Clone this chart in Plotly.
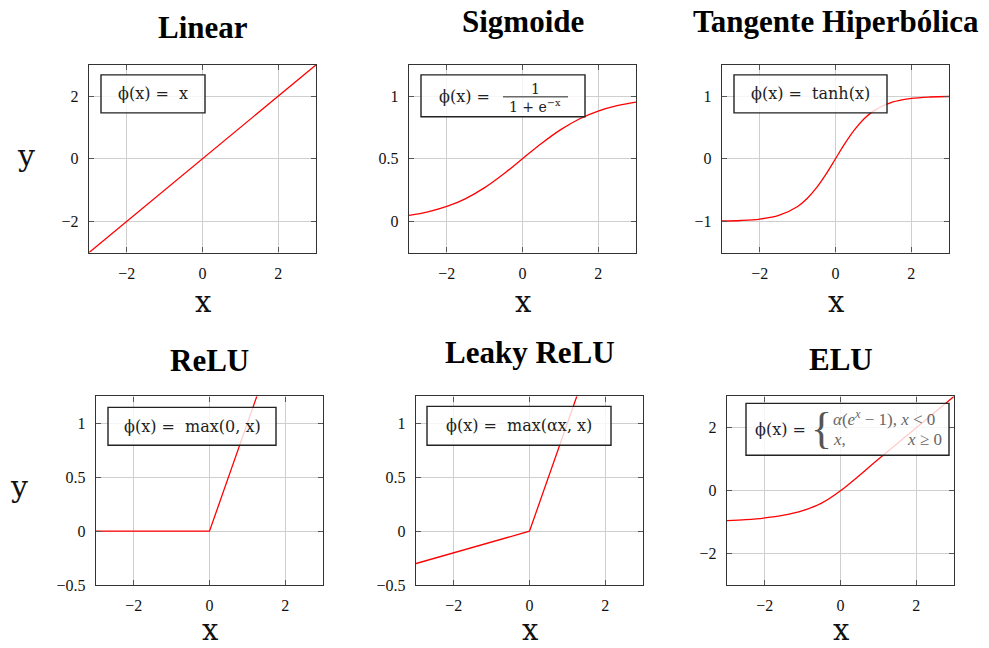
import plotly.graph_objects as go

# ---------------- data ----------------
titles = ["Linear", "Sigmoide", "Tangente Hiperbólica", "ReLU", "Leaky ReLU", "ELU"]

x_linear = [-3, 3]
y_linear = [-3, 3]

x_sigmoid = [-3, -2.5, -2, -1.5, -1, -0.5, 0, 0.5, 1, 1.5, 2, 2.5, 3]
y_sigmoid = [0.047, 0.076, 0.119, 0.182, 0.269, 0.378, 0.5, 0.622, 0.731, 0.818, 0.881, 0.924, 0.953]

x_tanh = [-3, -2.5, -2, -1.5, -1, -0.75, -0.5, -0.25, 0, 0.25, 0.5, 0.75, 1, 1.5, 2, 2.5, 3]
y_tanh = [-0.995, -0.987, -0.964, -0.905, -0.762, -0.635, -0.462, -0.245, 0, 0.245, 0.462, 0.635, 0.762, 0.905, 0.964, 0.987, 0.995]

x_relu = [-3, 0, 3]
y_relu = [0, 0, 3]

x_leaky = [-3, 0, 3]
y_leaky = [-0.3, 0, 3]

x_elu = [-3, -2.5, -2, -1.5, -1, -0.5, 0, 1, 2, 3]
y_elu = [-0.950, -0.918, -0.865, -0.777, -0.632, -0.393, 0, 1, 2, 3]

x_ticks = [-2, 0, 2]
y_ticks = [[-2, 0, 2], [0, 0.5, 1], [-1, 0, 1], [-0.5, 0, 0.5, 1], [-0.5, 0, 0.5, 1], [-2, 0, 2]]
y_ranges = [[-3, 3], [-0.25, 1.25], [-1.5, 1.5], [-0.5, 1.25], [-0.5, 1.25], [-3, 3]]
x_range = [-3, 3]

series = [(x_linear, y_linear, "linear"), (x_sigmoid, y_sigmoid, "spline"),
          (x_tanh, y_tanh, "spline"), (x_relu, y_relu, "linear"),
          (x_leaky, y_leaky, "linear"), (x_elu, y_elu, "spline")]

# ---------------- layout helpers ----------------
W, H = 989, 648          # reference pixel frame
FIG_H = 656              # rendered figure height (capture is rescaled to 648)
def PX(x): return x / W
def PY(y): return 1 - y / H

# plot boxes in pixels: (left, right, top, bottom)
boxes = [(89, 316, 65, 253), (409, 636, 65, 253), (722, 949, 65, 253),
         (96, 323, 397, 586), (416, 643, 397, 586), (727, 954, 397, 586)]
title_y = [28, 22, 22, 361, 353, 360]
xlabel_y = [302, 302, 302, 631, 631, 631]

fig = go.Figure()
TEXT_FONT = "Liberation Serif"
MATH_FONT = "DejaVu Serif"
annotations = []
shapes = []

for i, (xs, ys, shp) in enumerate(series):
    n = "" if i == 0 else str(i + 1)
    fig.add_trace(go.Scatter(x=xs, y=ys, mode="lines", xaxis="x" + n, yaxis="y" + n,
                             line=dict(color="#ff0000", width=1.3, shape=shp, smoothing=1.0),
                             showlegend=False, hoverinfo="skip"))
    l, r, t, b = boxes[i]
    axis_common = dict(showgrid=True, gridcolor="#cfcfcf", gridwidth=1,
                       showline=True, linecolor="#333333", linewidth=1.4, mirror="ticks",
                       ticks="inside", ticklen=5, tickcolor="#555555", tickwidth=1,
                       zeroline=False, tickfont=dict(family=TEXT_FONT, size=16, color="#111"),
                       fixedrange=True)
    fig.layout["xaxis" + n] = dict(domain=[PX(l), PX(r)], anchor="y" + n, range=x_range,
                                   tickvals=x_ticks, ticklabelstandoff=6, **axis_common)
    fig.layout["yaxis" + n] = dict(domain=[PY(b), PY(t)], anchor="x" + n, range=y_ranges[i],
                                   tickvals=y_ticks[i], ticklabelstandoff=6, **axis_common)
    cx = (l + r) / 2
    annotations.append(dict(text="<b>" + titles[i] + "</b>", x=PX(cx), y=PY(title_y[i]),
                            xref="paper", yref="paper", showarrow=False, xanchor="center",
                            yanchor="middle", font=dict(family=TEXT_FONT, size=31, color="#000")))
    annotations.append(dict(text="x", x=PX(cx), y=PY(xlabel_y[i]), xref="paper", yref="paper",
                            showarrow=False, xanchor="center", yanchor="middle",
                            font=dict(family=MATH_FONT, size=29, color="#111")))

# y labels
for (xx, yy) in [(26, 156), (19, 487)]:
    annotations.append(dict(text="y", x=PX(xx), y=PY(yy), xref="paper", yref="paper",
                            showarrow=False, xanchor="center", yanchor="middle",
                            font=dict(family=MATH_FONT, size=30, color="#111")))

# formula boxes
def box(l, r, t, b):
    shapes.append(dict(type="rect", xref="paper", yref="paper", x0=PX(l), x1=PX(r),
                       y0=PY(b), y1=PY(t), line=dict(color="#222", width=1.4),
                       fillcolor="rgba(255,255,255,0.8)", layer="above"))

def txt(s, x, y, size=16, color="#222", xanchor="center", family=MATH_FONT):
    annotations.append(dict(text=s, x=PX(x), y=PY(y), xref="paper", yref="paper",
                            showarrow=False, xanchor=xanchor, yanchor="middle",
                            font=dict(family=family, size=size, color=color)))

EQ = "&nbsp;=&nbsp; "
box(101, 205, 75, 113); txt("ϕ(x)" + EQ + "x", 153, 94)
box(421, 585, 75, 117); txt("ϕ(x)" + EQ, 437, 97, xanchor="left")
txt("1", 535, 89, size=14); txt("1 + e<sup>−x</sup>", 535, 106, size=14)
shapes.append(dict(type="line", xref="paper", yref="paper", x0=PX(503), x1=PX(568),
                   y0=PY(97), y1=PY(97), line=dict(color="#222", width=1)))
box(734, 887, 75, 113); txt("ϕ(x)" + EQ + "tanh(x)", 810, 94)
box(108, 276, 408, 446); txt("ϕ(x)" + EQ + "max(0, x)", 192, 427)
box(427, 611, 407, 446); txt("ϕ(x)" + EQ + "max(αx, x)", 519, 426)
box(746, 949, 404, 456); txt("ϕ(x) =", 753, 430, size=16, color="#223", xanchor="left")
txt("{", 821, 429, size=44, color="#555", family="Liberation Serif")
txt("<i>α</i>(<i>e<sup>x</sup></i> − 1), <i>x</i> &lt; 0", 831, 419, size=17, color="#666",
    xanchor="left", family="Liberation Serif")
txt("<i>x</i>,", 831, 440, size=17, color="#666", xanchor="left", family="Liberation Serif")
txt("<i>x</i> ≥ 0", 944, 440, size=17, color="#666", xanchor="right", family="Liberation Serif")

fig.update_layout(width=W, height=FIG_H, margin=dict(l=0, r=0, t=0, b=0),
                  paper_bgcolor="white", plot_bgcolor="white",
                  annotations=annotations, shapes=shapes)
fig.write_html("out.html", config={"displayModeBar": False},
               post_script="document.documentElement.style.margin='0px';"
                           "document.documentElement.style.overflow='hidden';"
                           "document.body.style.margin='0px';"
                           "document.body.style.padding='0px';"
                           "document.body.style.overflow='hidden';")
